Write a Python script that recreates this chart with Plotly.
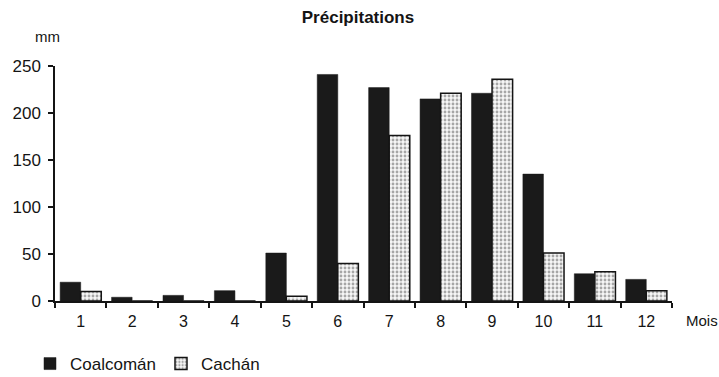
import plotly.graph_objects as go

# Monthly precipitation (mm) at two stations
months = list(range(1, 13))
month_labels = [str(m) for m in months]
coalcoman = [20, 4, 6, 11, 51, 241, 227, 215, 221, 135, 29, 23]
cachan = [10, 0, 0, 0, 5, 40, 176, 221, 236, 51, 31, 11]

FONT = "Liberation Sans, Arial, Helvetica, sans-serif"
INK = "#141414"

fig = go.Figure()
fig.add_trace(go.Bar(
    x=months, y=coalcoman, name="Coalcomán",
    marker=dict(color="#1a1a1a", line=dict(color="#1a1a1a", width=0.5)),
))
fig.add_trace(go.Bar(
    x=months, y=cachan, name="Cachán",
    marker=dict(
        color="white",
        line=dict(color=INK, width=1.5),
        pattern=dict(shape=".", fgcolor="#555555", bgcolor="#f6f6f6",
                     size=4, solidity=0.4),
    ),
))

fig.update_layout(
    width=719, height=377,
    margin=dict(l=45, r=47, t=66, b=76),
    plot_bgcolor="white", paper_bgcolor="white",
    barmode="group", bargap=0.2, bargroupgap=0,
    font=dict(family=FONT, size=16, color=INK),
    title=dict(text="<b>Précipitations</b>", x=358 / 719, xanchor="center",
               y=1 - 17 / 377, yanchor="middle",
               font=dict(family=FONT, size=17, color=INK)),
    showlegend=True,
    legend=dict(orientation="h", xref="container", yref="container",
                x=30 / 719, xanchor="left", y=(377 - 364) / 377, yanchor="middle",
                font=dict(family=FONT, size=17, color=INK),
                itemwidth=30, traceorder="normal", bgcolor="rgba(0,0,0,0)"),
    xaxis=dict(
        range=[0.5, 12.5], tickmode="array", tickvals=months, ticktext=month_labels,
        ticks="", showgrid=False, zeroline=False, ticklabelstandoff=5,
        showline=True, linecolor=INK, linewidth=1.5,
        tickfont=dict(family=FONT, size=16, color=INK),
        minor=dict(tick0=0.5, dtick=1, ticks="outside", ticklen=5,
                   tickcolor=INK, tickwidth=1.5, showgrid=False),
    ),
    yaxis=dict(
        range=[0, 250], tickvals=[0, 50, 100, 150, 200, 250],
        ticks="outside", ticklen=5, tickcolor=INK, tickwidth=1.5,
        showgrid=False, zeroline=False, ticklabelstandoff=4,
        showline=True, linecolor=INK, linewidth=1.5,
        tickfont=dict(family=FONT, size=17, color=INK),
    ),
    annotations=[
        dict(text="mm", xref="paper", yref="paper", x=(23 - 45) / 627, y=(301 - 37) / 235,
             xanchor="left", yanchor="middle", showarrow=False,
             font=dict(family=FONT, size=15, color=INK)),
        dict(text="Mois", xref="paper", yref="paper", x=(684 - 45) / 627, y=-19 / 235,
             xanchor="left", yanchor="middle", showarrow=False,
             font=dict(family=FONT, size=15, color=INK)),
    ],
)

fig.write_html("out.html")
